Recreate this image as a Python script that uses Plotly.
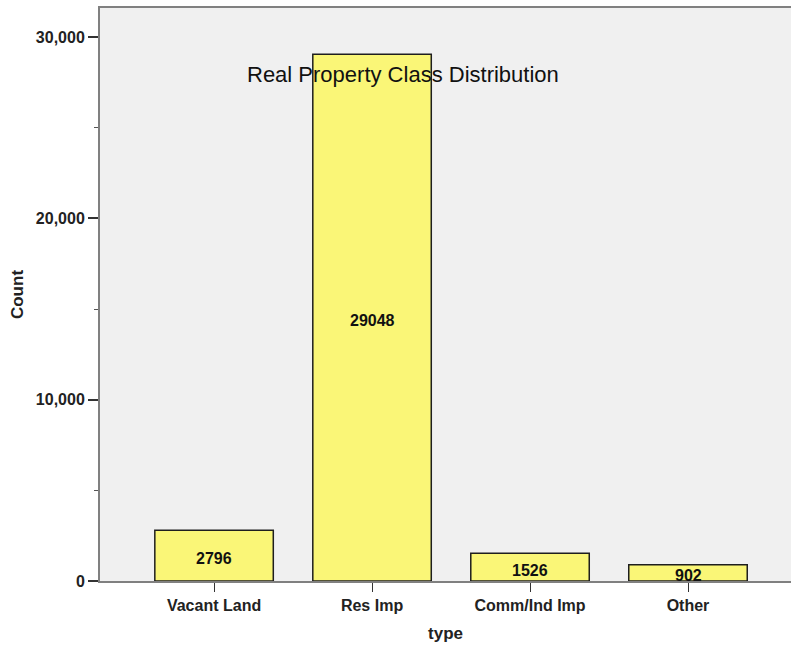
import plotly.graph_objects as go

categories = ["Vacant Land", "Res Imp", "Comm/Ind Imp", "Other"]
counts = [2796, 29048, 1526, 902]
y_tick_vals = [0, 10000, 20000, 30000]
y_tick_text = ["0", "10,000", "20,000", "30,000"]

bold = "Liberation Sans, Arial, sans-serif"

fig = go.Figure()
fig.add_trace(go.Bar(
    x=categories, y=counts, width=0.75,
    marker=dict(color="#FAF677", line=dict(color="#1E1E1E", width=1.5)),
    hoverinfo="x+y",
))

# value labels centred inside each bar
value_labels = [
    dict(x=cat, y=c / 2, xref="x", yref="y", text=f"<b>{c}</b>",
         showarrow=False, yshift=-3,
         font=dict(family=bold, size=16, color="#111111"))
    for cat, c in zip(categories, counts)
]

fig.update_layout(
    width=791, height=645,
    margin=dict(l=100, r=0, t=8, b=64),
    paper_bgcolor="white", plot_bgcolor="#F0F0F0",
    showlegend=False,
    annotations=value_labels + [dict(
        text="Real Property Class Distribution", x=0.438, y=0.909,
        xref="paper", yref="paper", showarrow=False,
        font=dict(family=bold, size=22, color="#111111"),
    )],
)
fig.update_xaxes(
    range=[-0.722, 3.652], showgrid=False, zeroline=False,
    showline=True, linecolor="#808080", linewidth=2, mirror=True,
    ticks="outside", ticklen=9, tickcolor="#333333", tickwidth=1,
    tickfont=dict(family=bold, size=16, color="#222222"),
    tickprefix="<b>", ticksuffix="</b>",
    title=dict(text="<b>type</b>", font=dict(family=bold, size=17, color="#222222"), standoff=14),
)
fig.update_yaxes(
    range=[0, 31600], showgrid=False, zeroline=False,
    showline=True, linecolor="#808080", linewidth=2,
    tickvals=y_tick_vals, ticktext=[f"<b>{t}</b>" for t in y_tick_text],
    ticks="outside", ticklen=10, tickcolor="#333333", tickwidth=2,
    tickfont=dict(family=bold, size=16, color="#222222"),
    minor=dict(dtick=5000, tick0=0, ticks="outside", ticklen=4, tickcolor="#555555", tickwidth=1),
    title=dict(text="<b>Count</b>", font=dict(family=bold, size=17, color="#222222"), standoff=8),
)

fig.write_html("out.html")
